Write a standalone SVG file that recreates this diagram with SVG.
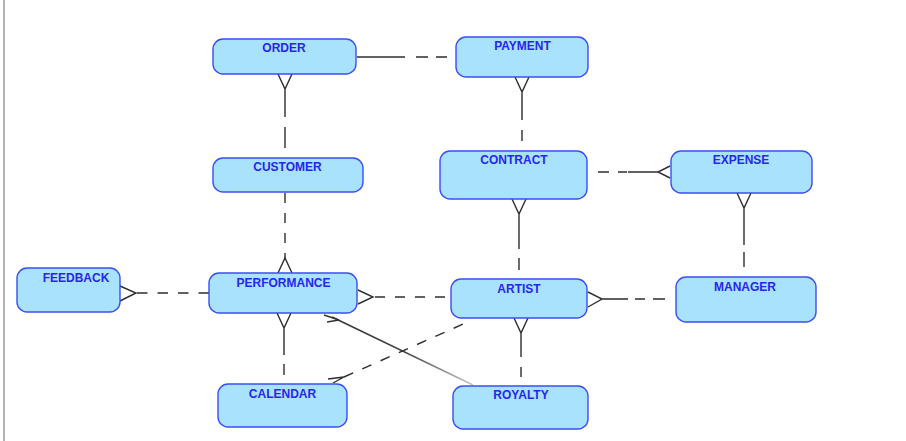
<svg xmlns="http://www.w3.org/2000/svg" width="906" height="441" viewBox="0 0 906 441">
  <style>
    .box { fill: #a8e2fc; stroke: #3b4ef4; stroke-width: 1.4; }
    .lbl { font-family: "Liberation Sans", Arial, sans-serif; font-size: 12px; font-weight: bold; fill: #2626ee; text-anchor: middle; }
    .ln { fill: none; stroke: #2e2e2e; stroke-width: 1.4; }
    .dash { fill: none; stroke: #2e2e2e; stroke-width: 1.4; stroke-dasharray: 10 10; }
  </style>
  <defs>
    <linearGradient id="fade" gradientUnits="userSpaceOnUse" x1="338" y1="319" x2="473" y2="385">
      <stop offset="0" stop-color="#333"/>
      <stop offset="0.5" stop-color="#444"/>
      <stop offset="1" stop-color="#c8c8c8"/>
    </linearGradient>
  </defs>
  <rect x="0" y="0" width="906" height="441" fill="#ffffff"/>
  <line x1="4" y1="0" x2="4" y2="441" stroke="#a0a0a0" stroke-width="1.6"/>

  <g id="connectors">
    <!-- ORDER - PAYMENT -->
    <path class="ln" d="M357,57 H405"/>
    <path class="ln" d="M416,57 H428 M436,57 H447"/>
    <!-- ORDER - CUSTOMER -->
    <path class="ln" d="M278,74 L285,89 L292,74 M285,89 V117 M285,127 V148"/>
    <!-- PAYMENT - CONTRACT -->
    <path class="ln" d="M515,77 L522,92 L529,77 M522,92 V120 M522,130 V141"/>
    <!-- CUSTOMER - PERFORMANCE -->
    <path class="dash" d="M285,193 V258"/>
    <path class="ln" d="M278,273 L285,258 L292,273"/>
    <!-- PERFORMANCE - CALENDAR -->
    <path class="ln" d="M277,313 L284,328 L291,313 M284,328 V355 M284,364 V375"/>
    <!-- FEEDBACK - PERFORMANCE -->
    <path class="ln" d="M120,286 L136,293 L120,301"/>
    <path class="dash" d="M137,293 H209" style="stroke-dasharray:10.5 10"/>
    <!-- PERFORMANCE - ARTIST -->
    <path class="ln" d="M358,290 L373,297 L358,304"/>
    <path class="dash" d="M375,297 H451"/>
    <!-- PERFORMANCE - ROYALTY -->
    <path d="M324,315 L339,320 L327,322" fill="none" stroke="#333" stroke-width="1.4"/>
    <path d="M332,317 L473,385" fill="none" stroke="url(#fade)" stroke-width="1.4"/>
    <!-- ARTIST - CALENDAR -->
    <path class="ln" d="M328,379 L344,377 L333,383"/>
    <path class="dash" d="M344,377 L470,321"/>
    <!-- CONTRACT - EXPENSE -->
    <path class="ln" d="M598,172 H609 M618,172 H627 M628,172 H658 M670,166 L658,172 L670,178"/>
    <!-- CONTRACT - ARTIST -->
    <path class="ln" d="M512,199 L519,214 L526,199 M519,214 V249 M519,258 V270"/>
    <!-- EXPENSE - MANAGER -->
    <path class="ln" d="M737,193 L744,208 L751,193 M744,208 V245 M744,252 V267"/>
    <!-- ARTIST - MANAGER -->
    <path class="ln" d="M588,292 L602,299 L588,307 M602,299 H628 M635,299 H645 M653,299 H665"/>
    <!-- ARTIST - ROYALTY -->
    <path class="ln" d="M514,318 L521,333 L528,318 M521,333 V357 M521,367 V377"/>
  </g>

  <g id="order"><rect class="box" x="213" y="39" width="143" height="35" rx="10"/><text class="lbl" x="284" y="52">ORDER</text></g>
  <g id="payment"><rect class="box" x="456" y="37" width="132" height="40" rx="10"/><text class="lbl" x="522.5" y="50">PAYMENT</text></g>
  <g id="customer"><rect class="box" x="213" y="158" width="150" height="34" rx="10"/><text class="lbl" x="287.5" y="171">CUSTOMER</text></g>
  <g id="contract"><rect class="box" x="440" y="151" width="147" height="48" rx="10"/><text class="lbl" x="514" y="164">CONTRACT</text></g>
  <g id="expense"><rect class="box" x="671" y="151" width="141" height="42" rx="10"/><text class="lbl" x="741" y="164">EXPENSE</text></g>
  <g id="feedback"><rect class="box" x="17" y="268" width="103" height="44" rx="10"/><text class="lbl" x="76" y="281.5">FEEDBACK</text></g>
  <g id="performance"><rect class="box" x="209" y="273" width="148" height="40" rx="10"/><text class="lbl" x="283.5" y="286.5">PERFORMANCE</text></g>
  <g id="artist"><rect class="box" x="451" y="279" width="136" height="39" rx="10"/><text class="lbl" x="519" y="293">ARTIST</text></g>
  <g id="manager"><rect class="box" x="676" y="277" width="140" height="45" rx="10"/><text class="lbl" x="745" y="291">MANAGER</text></g>
  <g id="calendar"><rect class="box" x="218" y="384" width="129" height="43" rx="10"/><text class="lbl" x="282.5" y="398">CALENDAR</text></g>
  <g id="royalty"><rect class="box" x="453" y="386" width="135" height="43" rx="10"/><text class="lbl" x="521" y="399">ROYALTY</text></g>
</svg>
